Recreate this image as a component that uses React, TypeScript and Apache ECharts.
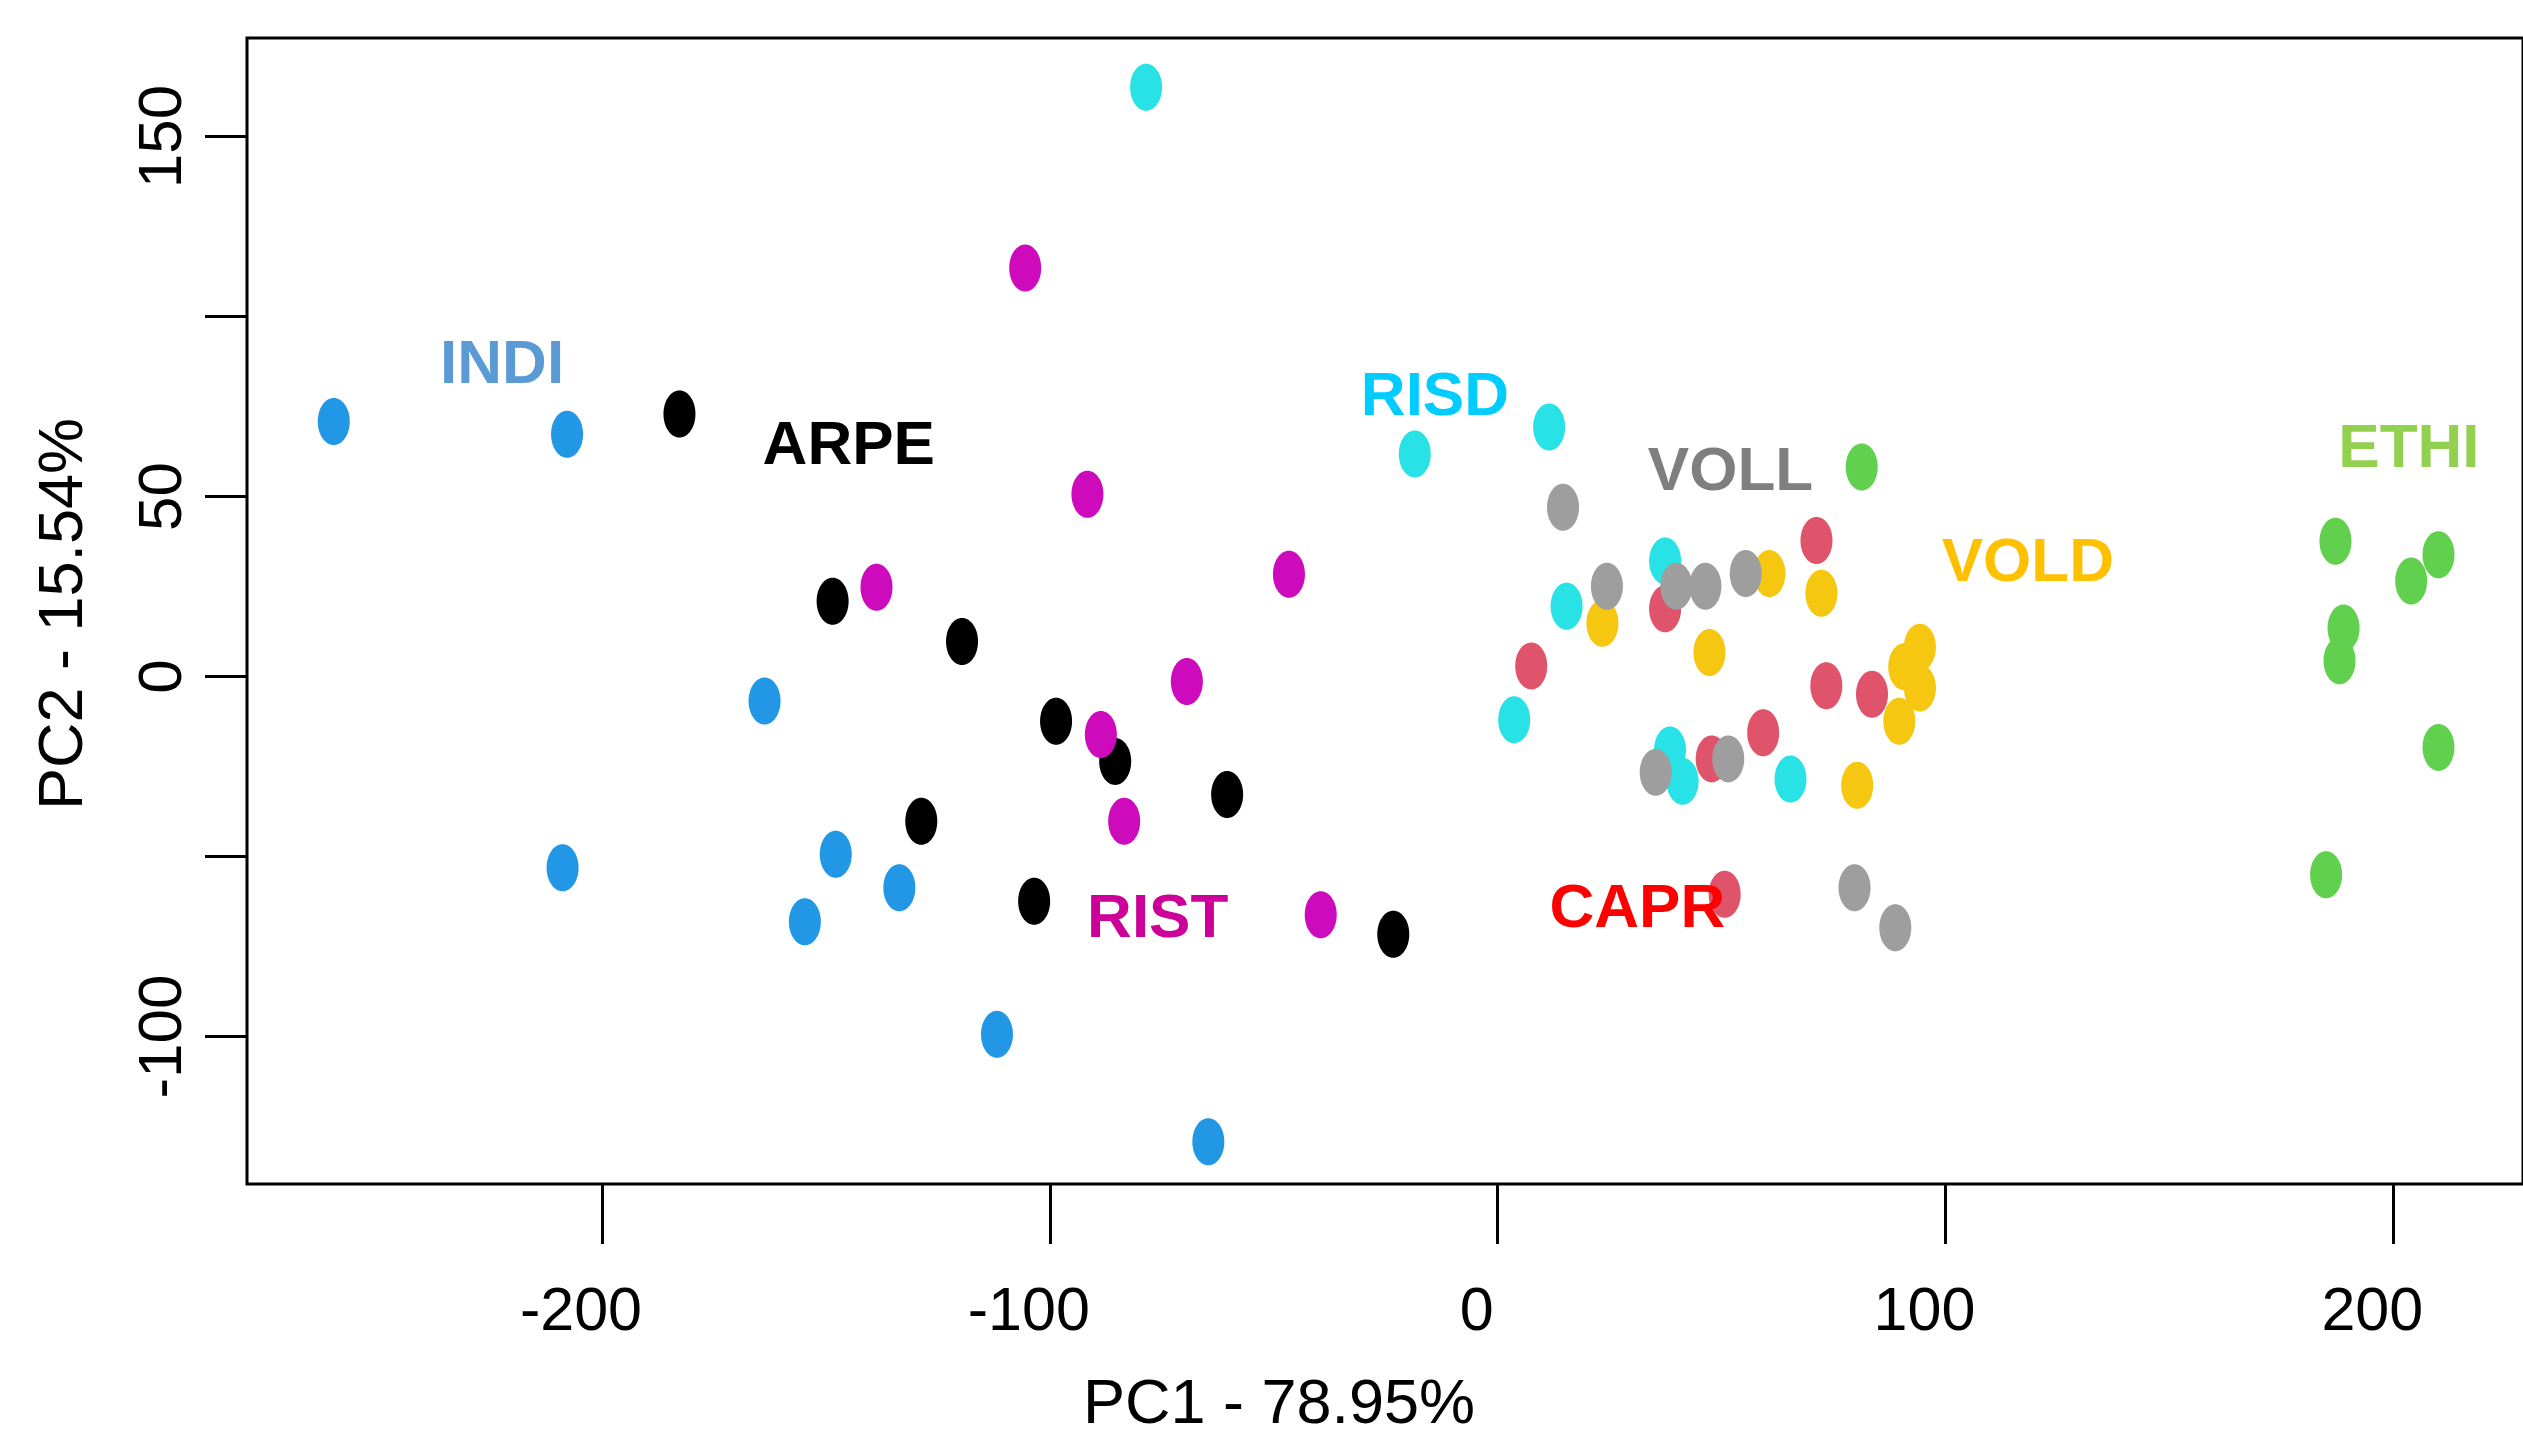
import React, { useEffect, useRef } from "react";
import * as echarts from "echarts";

// ---- Data (PC1, PC2) ----
const INDI: number[][] = [
  [-259.9, 70.8], [-207.8, 67.3], [-163.7, -6.8], [-208.8, -53.1], [-147.8, -49.4],
  [-154.7, -68.1], [-133.6, -58.7], [-111.8, -99.4], [-64.6, -129.2],
];
const ARPE: number[][] = [
  [-182.7, 72.9], [-148.5, 20.9], [-119.6, 9.7], [-98.6, -12.4], [-85.4, -23.6],
  [-60.4, -32.8], [-128.7, -40.2], [-103.5, -62.4], [-23.3, -71.6],
];
const RIST: number[][] = [
  [-105.5, 113.5], [-91.6, 50.6], [-138.7, 24.8], [-46.6, 28.4], [-69.4, -1.4],
  [-88.6, -16.1], [-83.4, -40.2], [-39.5, -66.2],
];
const CAPR: number[][] = [
  [71.2, 37.8], [37.4, 18.8], [7.5, 2.9], [73.4, -2.6], [83.6, -4.9],
  [59.3, -15.6], [47.8, -22.9], [50.7, -60.5],
];
const VOLD: number[][] = [
  [60.7, 28.6], [72.3, 23.1], [23.4, 14.8], [47.3, 6.7], [80.3, -30.2],
  [94.3, 8.1], [90.8, 2.7], [94.3, -3.2], [89.7, -12.4],
];
const RISD: number[][] = [
  [-78.5, 163.7], [-18.5, 61.8], [11.5, 69.3], [37.4, 32.1], [15.4, 19.5],
  [3.7, -12.0], [38.5, -20.4], [41.3, -29.1], [65.4, -28.5],
];
const VOLL: number[][] = [
  [14.6, 47.0], [24.4, 25.1], [39.9, 25.1], [46.4, 25.1], [55.4, 28.6],
  [35.3, -26.6], [51.5, -22.9], [79.7, -58.7], [88.8, -69.8],
];
const ETHI: number[][] = [
  [81.3, 58.2], [187.1, 37.6], [210.1, 33.8], [204.0, 26.5], [188.9, 13.5],
  [188.0, 4.4], [210.1, -19.7], [185.0, -55.1],
];

// group labels: name, position (data coords)
const LABEL_NAMES = ["INDI", "ARPE", "RISD", "VOLL", "VOLD", "ETHI", "CAPR", "RIST"];
const LABEL_POS: number[][] = [
  [-222.3, 87.4], [-144.9, 64.9], [-14.0, 78.5], [52.0, 57.8],
  [118.4, 32.5], [203.5, 64.1], [31.2, -63.6], [-75.9, -66.3],
];
const LABEL_COLORS = ["#5B9BD5", "#000000", "#00CCFF", "#7F7F7F", "#FFC000", "#92D050", "#FF0000", "#CC0099"];

const X_TICKS = [-200, -100, 0, 100, 200];
const Y_TICKS = [-100, -50, 0, 50, 100, 150];
const Y_TICK_LABELS = [-100, 0, 50, 150];

const X_TITLE = "PC1 - 78.95%";
const Y_TITLE = "PC2 - 15.54%";

const FONT = "'Liberation Sans', Arial, Helvetica, sans-serif";
const ELLIPSE =
  "path://M0,-1 C0.552,-1 1,-0.552 1,0 C1,0.552 0.552,1 0,1 C-0.552,1 -1,0.552 -1,0 C-1,-0.552 -0.552,-1 0,-1 Z";

const GROUPS: { name: string; color: string; data: number[][] }[] = [
  { name: "INDI", color: "#2297E6", data: INDI },
  { name: "ARPE", color: "#000000", data: ARPE },
  { name: "RIST", color: "#CD0BBC", data: RIST },
  { name: "CAPR", color: "#DF536B", data: CAPR },
  { name: "VOLD", color: "#F5C710", data: VOLD },
  { name: "RISD", color: "#28E2E5", data: RISD },
  { name: "VOLL", color: "#9E9E9E", data: VOLL },
  { name: "ETHI", color: "#61D04F", data: ETHI },
];

export default function App() {
  const ref = useRef<HTMLDivElement>(null);
  useEffect(() => {
    if (!ref.current) return;
    const chart = echarts.init(ref.current, undefined, { renderer: "svg" });
    const pointSeries = GROUPS.map((g) => ({
      type: "scatter",
      name: g.name,
      data: g.data,
      symbol: ELLIPSE,
      symbolSize: [32, 47],
      itemStyle: { color: g.color, opacity: 1 },
      emphasis: { disabled: true },
      z: 2,
    }));
    const labelSeries = {
      type: "scatter",
      name: "labels",
      symbolSize: 0,
      z: 5,
      itemStyle: { opacity: 1 },
      emphasis: { disabled: true },
      data: LABEL_POS.map((p, i) => ({
        value: p,
        name: LABEL_NAMES[i],
        label: {
          show: true,
          position: "inside",
          formatter: LABEL_NAMES[i],
          color: LABEL_COLORS[i],
          opacity: 1,
          fontSize: 62,
          fontWeight: "bold",
          fontFamily: FONT,
        },
      })),
    };
    chart.setOption({
      animation: false,
      backgroundColor: "#ffffff",
      grid: {
        left: 247,
        top: 38,
        width: 2284,
        height: 1146,
        show: true,
        borderColor: "#000000",
        borderWidth: 3,
        backgroundColor: "transparent",
      },
      xAxis: {
        type: "value",
        min: -279.27,
        max: 228.97,
        axisLine: { show: false, onZero: false },
        splitLine: { show: false },
        axisTick: {
          show: true,
          customValues: X_TICKS,
          length: 60,
          lineStyle: { color: "#000000", width: 3 },
        },
        axisLabel: {
          customValues: X_TICKS,
          margin: 94,
          fontSize: 61,
          color: "#000000",
          fontFamily: FONT,
          padding: [0, 42, 0, 0],
        },
      },
      yAxis: {
        type: "value",
        min: -140.97,
        max: 177.36,
        axisLine: { show: false, onZero: false },
        splitLine: { show: false },
        axisTick: {
          show: true,
          customValues: Y_TICKS,
          length: 42,
          lineStyle: { color: "#000000", width: 3 },
        },
        axisLabel: {
          customValues: Y_TICK_LABELS,
          rotate: 90,
          margin: 57,
          fontSize: 62,
          color: "#000000",
          fontFamily: FONT,
        },
      },
      graphic: [
        {
          type: "text",
          x: 1279,
          y: 1401,
          style: {
            text: X_TITLE,
            fontSize: 63,
            fontFamily: FONT,
            fill: "#000000",
            textAlign: "center",
            textVerticalAlign: "middle",
          },
        },
        {
          type: "text",
          x: 60,
          y: 614,
          rotation: Math.PI / 2,
          style: {
            text: Y_TITLE,
            fontSize: 63,
            fontFamily: FONT,
            fill: "#000000",
            textAlign: "center",
            textVerticalAlign: "middle",
          },
        },
      ],
      series: [...pointSeries, labelSeries],
    });
    return () => chart.dispose();
  }, []);
  return (
    <div
      ref={ref}
      style={{ position: "fixed", left: 0, top: 0, width: 2523, height: 1441, background: "#ffffff" }}
    />
  );
}
